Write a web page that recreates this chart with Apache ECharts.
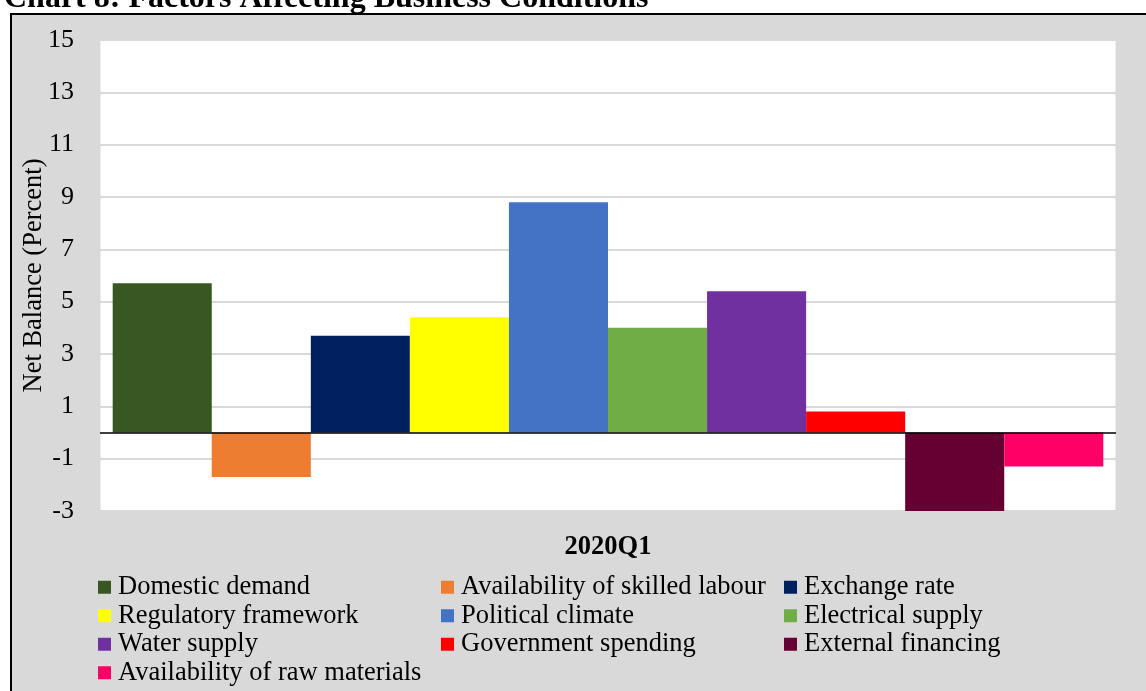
<!DOCTYPE html>
<html>
<head>
<meta charset="utf-8">
<script src="https://cdn.jsdelivr.net/npm/echarts@6/dist/echarts.min.js"></script>
<style>html,body{margin:0;padding:0;background:#fff;}#c{width:1146px;height:691px;}</style>
</head>
<body>
<div id="c"></div>
<script>
const categories = ['2020Q1'];
const seriesNames = ['Domestic demand','Availability of skilled labour','Exchange rate','Regulatory framework','Political climate','Electrical supply','Water supply','Government spending','External financing','Availability of raw materials'];
const seriesValues = [5.7, -1.7, 3.7, 4.4, 8.8, 4.0, 5.4, 0.8, -3.0, -1.3];
const seriesColors = ['#385723','#ed7d31','#002060','#ffff00','#4472c4','#70ad47','#7030a0','#ff0000','#660033','#ff0066'];
const yTicks = {min: -3, max: 15, interval: 2};

const font = '"Liberation Serif", "Times New Roman", serif';
const chart = echarts.init(document.getElementById('c'));
const series = seriesNames.map((n, i) => {
  const s = {
    name: n, type: 'bar', data: [seriesValues[i]],
    itemStyle: {color: seriesColors[i]},
    barGap: '0%', barCategoryGap: '2.5%'
  };
  if (i === 0) {
    s.markLine = {silent: true, symbol: ['none','none'], label: {show: false},
      lineStyle: {color: '#000', width: 1.5, type: 'solid'}, data: [{yAxis: 0}], animation: false};
  }
  return s;
});
chart.setOption({
  animation: false,
  backgroundColor: '#fff',
  graphic: [{type: 'rect', shape: {x: 11, y: 14, width: 1200, height: 720},
    style: {fill: '#d9d9d9', stroke: '#000', lineWidth: 2}, z: -10}],
  title: {text: 'Chart 8: Factors Affecting Business Conditions', left: -1, top: -22,
    textStyle: {fontFamily: font, fontWeight: 'bold', fontSize: 32, color: '#000'}},
  grid: {left: 100, right: 30, top: 40, bottom: 180, show: true, backgroundColor: '#fff', borderColor: '#d9d9d9', borderWidth: 1},
  xAxis: {type: 'category', data: categories, axisLine: {show: false, onZero: false}, axisTick: {show: false},
    axisLabel: {margin: 23, fontFamily: font, fontWeight: 'bold', fontSize: 26.5, color: '#000'}},
  yAxis: {type: 'value', min: yTicks.min, max: yTicks.max, interval: yTicks.interval,
    name: 'Net Balance (Percent)', nameLocation: 'middle', nameGap: 52, nameMoveOverlap: false,
    nameTextStyle: {fontFamily: font, fontSize: 26.5, color: '#000'},
    axisLine: {show: false}, axisTick: {show: false},
    axisLabel: {margin: 26, fontFamily: font, fontSize: 26, color: '#000'},
    splitLine: {lineStyle: {color: '#d9d9d9', width: 2}}},
  legend: {left: 98, top: 573, width: 1040, padding: 0, itemGap: 0, itemWidth: 13, itemHeight: 13, icon: 'rect',
    data: seriesNames,
    textStyle: {fontFamily: font, fontSize: 26.5, color: '#000', width: 323, lineHeight: 28.5, padding: [0,0,0,2], overflow: 'none'}},
  series: series
});
</script>
</body>
</html>
